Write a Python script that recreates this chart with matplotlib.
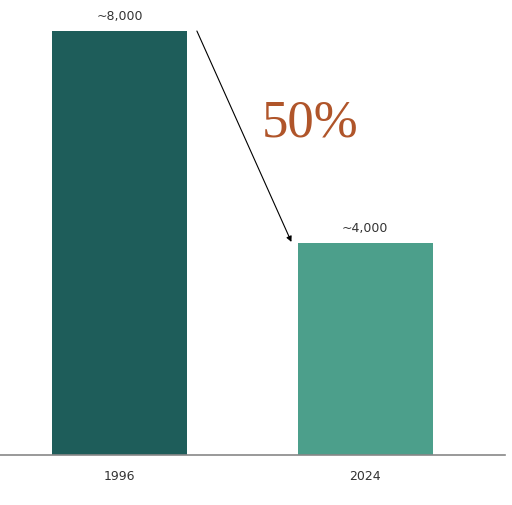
import matplotlib.pyplot as plt

years = ['1996', '2024']
counts = [8000, 4000]
labels = ['~8,000', '~4,000']
bar_colors = ['#1e5d5a', '#4c9f8b']

fig = plt.figure(figsize=(5.12, 5.06), dpi=100)
ax = fig.add_axes([0, 50 / 506, 505 / 512, 456 / 506])

x = [0, 1]
ax.bar(x, counts, width=0.55, color=bar_colors)

for xi, c, lab in zip(x, counts, labels):
    ax.text(xi, c + 170, lab, ha='center', va='bottom', fontsize=9, color='#333333')

# arrow between the bars
ax.annotate('', xy=(0.70, 4020), xytext=(0.315, 8000),
            arrowprops=dict(arrowstyle='-|>', color='black', lw=0.8,
                            mutation_scale=8, shrinkA=0, shrinkB=0))
ax.text(0.775, 6280, '50%', ha='center', va='center', fontsize=38,
        family='Liberation Serif', color='#b0552a')

ax.set_xlim(-0.487, 1.570)
ax.set_ylim(0, 8604)
ax.set_xticks(x)
ax.set_xticklabels(years, fontsize=9, color='#333333')
ax.tick_params(axis='x', length=0, pad=10)
ax.set_yticks([])
for s in ['top', 'right', 'left']:
    ax.spines[s].set_visible(False)
ax.spines['bottom'].set_color('#888888')
ax.spines['bottom'].set_linewidth(1.2)

fig.savefig('out.png', dpi=100)
